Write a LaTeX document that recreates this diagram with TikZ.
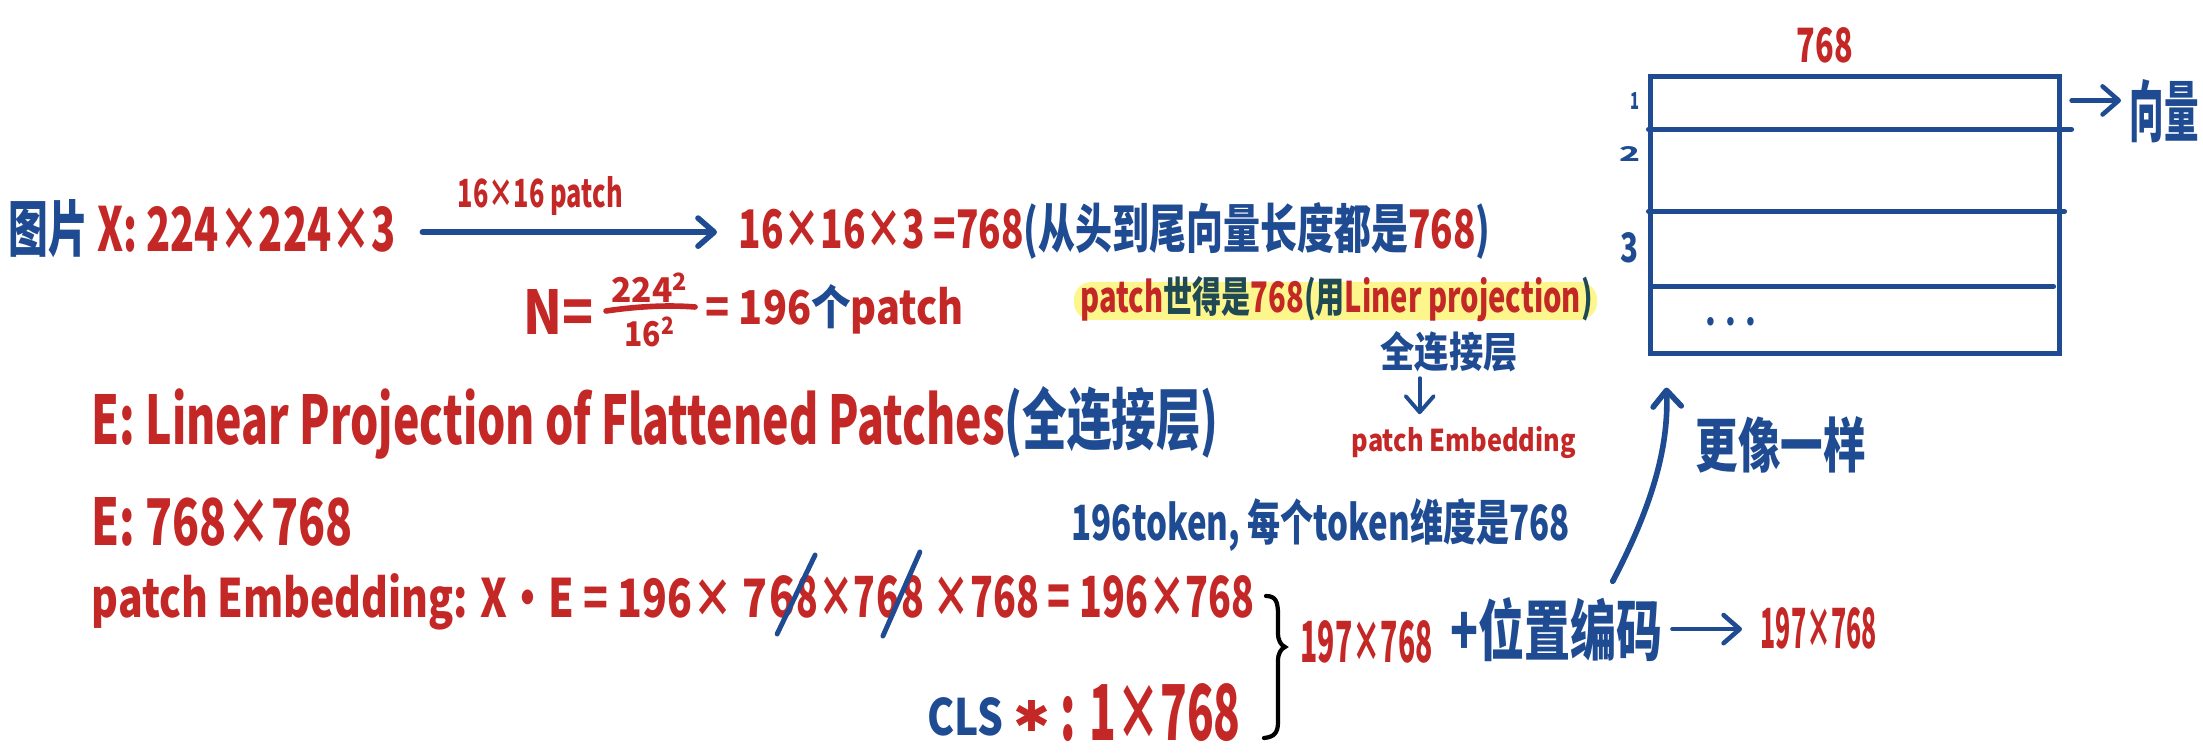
\documentclass[tikz,border=0pt]{standalone}
\usepackage{fontspec}
\setmainfont{Noto Sans CJK SC}
\newfontfamily\symfont{DejaVu Sans}
\usepackage{graphicx}
\usetikzlibrary{arrows.meta,calc,positioning}
\definecolor{inkred}{RGB}{196,40,38}
\definecolor{inkblue}{RGB}{31,75,146}
\definecolor{inkteal}{RGB}{31,74,84}
\definecolor{marker}{RGB}{252,246,140}
\newlength\pxu \setlength\pxu{0.01cm}
% texto "a mano": ancho y alto fijados en px
\newcommand\hw[3]{\resizebox{#1\pxu}{#2\pxu}{\bfseries #3}}
\newcommand\bl[1]{\textcolor{inkblue}{#1}}
\tikzset{
  txt/.style={inner sep=0pt, anchor=base west, text=inkred},
  pen/.style={inkblue, line width=1.6pt, line cap=round, line join=round},
  tip/.style={-{Straight Barb[round, length=4.6pt, width=8pt]}}
}
\begin{document}
\begin{tikzpicture}[x=0.01cm, y=-0.01cm]
\useasboundingbox (0,0) rectangle (2203,755);

% Primera linea
\node[txt] (img) at (8,252) {\hw{387}{52}{\bl{图片} X: 224×224×3}};
\node[txt] (res) at (738,249) {\hw{752}{46}{16×16×3 =768\bl{(从头到尾向量长度都是}768\bl{)}}};
\node[txt] (lab) at (457,208) {\hw{165}{31}{16×16 patch}};
\draw[pen, tip] ($(img.east)+(26,3)$) -- ($(img.east -| res.west)+(-21,3)$);

% N = 224^2 / 16^2
\node[txt] (neq) at (523,335) {\hw{70}{45}{N=}};
\node[txt, anchor=base] (num) at (650,303) {\hw{77}{30}{224\textsuperscript{2}}};
\node[txt, anchor=base] (den) at (650,347) {\hw{51}{30}{16\textsuperscript{2}}};
\draw[inkred, line width=1.6pt, line cap=round] (606,311) .. controls (640,306) and (670,305) .. (695,307);
\node[txt] (n196) at (705,325) {\hw{258}{40}{= 196\bl{个}patch}};

% Resaltado
\fill[marker, rounded corners=5pt] (1074,282) rectangle (1597,320);
\node[txt] (hl) at (1080,313) {\hw{512}{36}{patch\textcolor{inkteal}{世得是}768\textcolor{inkteal}{(用}Liner projection\textcolor{inkteal}{)}}};
\node[txt, text=inkblue] (fc) at (1380,368) {\hw{137}{36}{全连接层}};
\node[txt] (pe) at (1351,452) {\hw{224}{25}{patch Embedding}};
\draw[pen, line width=1.1pt, tip] ($(fc.south)+(-29.5,5)$) -- ++(0,36);

% E
\node[txt] (elin) at (91,445) {\hw{1127}{58}{E: Linear Projection of Flattened Patches\bl{(全连接层)}}};
\node[txt] (edim) at (91,545) {\hw{261}{48}{E: 768×768}};
\node[txt, text=inkblue] (tok) at (1071,540) {\hw{498}{42}{196token, 每个token维度是768}};

% patch Embedding
\node[txt] (p1) at (91,617) {\hw{676}{44}{patch Embedding: X·E = 196× 7}};
\node[txt, base right=0pt of p1] (s1) {\hw{26}{42}{6}};
\node[txt, base right=0pt of s1] (p3) {\hw{79}{42}{8×7}};
\node[txt, base right=0pt of p3] (s2) {\hw{23}{42}{6}};
\node[txt, base right=0pt of s2] (p5) {\hw{353}{42}{8 ×768 = 196×768}};
\draw[pen, line width=1.4pt] ($(s1.base)+(-5,17)$) -- ($(s1.base)+(33,-62)$);
\draw[pen, line width=1.4pt] ($(s2.base)+(-5.5,19)$) -- ($(s2.base)+(31.5,-65)$);

% CLS
\node[txt, text=inkblue] (cls) at (927,735) {\hw{76}{38}{CLS}};
\node[txt] (star) at (1013,731) {\hw{37}{31}{\symfont ✱}};
\node[txt] (one) at (1060,740) {\hw{180}{57}{: 1×768}};

% Llave
\draw[black, line width=1.2pt, line cap=round] (1266,596) .. controls (1276,596) and (1278,602) .. (1278,615) -- (1278,633)
  .. controls (1278,641) and (1281,645) .. (1285,647) .. controls (1281,649) and (1278,653) .. (1278,661) -- (1278,722)
  .. controls (1278,733) and (1274,737) .. (1264,738);

% 197 x 768
\node[txt] (tot) at (1300,662) {\hw{132}{42}{197×768}};
\node[txt, text=inkblue] (pos) at (1450,655) {\hw{212}{58}{+位置编码}};
\node[txt] (out) at (1760,648) {\hw{116}{41}{197×768}};
\draw[pen, line width=1.3pt, tip, shorten <=0.09cm, shorten >=0.18cm] (pos.east) -- (pos.east -| out.west);

% Matriz
\node[draw=inkblue, line width=1.4pt, minimum width=4.08cm, minimum height=2.76cm, inner sep=0pt] (mat) at (1855,215) {};
\draw[pen, line width=1.4pt] ($(mat.north west)+(0,55)$) -- ($(mat.north east)+(10,55)$);
\draw[pen, line width=1.4pt] ($(mat.north west)+(0,137)$) -- ($(mat.north east)+(3,137)$);
\draw[pen, line width=1.4pt] ($(mat.north west)+(2,212)$) -- ($(mat.north east)+(-8,212)$);
\node[txt] (w) at (1796,63) {\hw{56}{35}{768}};
\node[txt, text=inkblue] (r1) at (1630,110) {\hw{9}{17}{1}};
\node[txt, text=inkblue] (r2) at (1619,162) {\hw{21}{15}{2}};
\node[txt, text=inkblue] (r3) at (1620,263) {\hw{18}{30}{3}};
\node[txt, text=inkblue] (dots) at (1705,326) {\hw{51}{8}{. . .}};
\node[txt, text=inkblue] (vec) at (2129,137) {\hw{69}{57}{向量}};
\draw[pen, line width=1.3pt, tip] ($(mat.north east)+(10,26)$) coordinate (vs) -- ($(vs -| vec.west)+(-8,0)$);

% Flecha curva
\node[txt, text=inkblue] (like) at (1695,468) {\hw{170}{51}{更像一样}};
\draw[pen, tip] ($(pos.north)+(56,-15)$) .. controls (1650,510) and (1669,450) .. ($(mat.south west)+(18,32)$);
\end{tikzpicture}
\end{document}
